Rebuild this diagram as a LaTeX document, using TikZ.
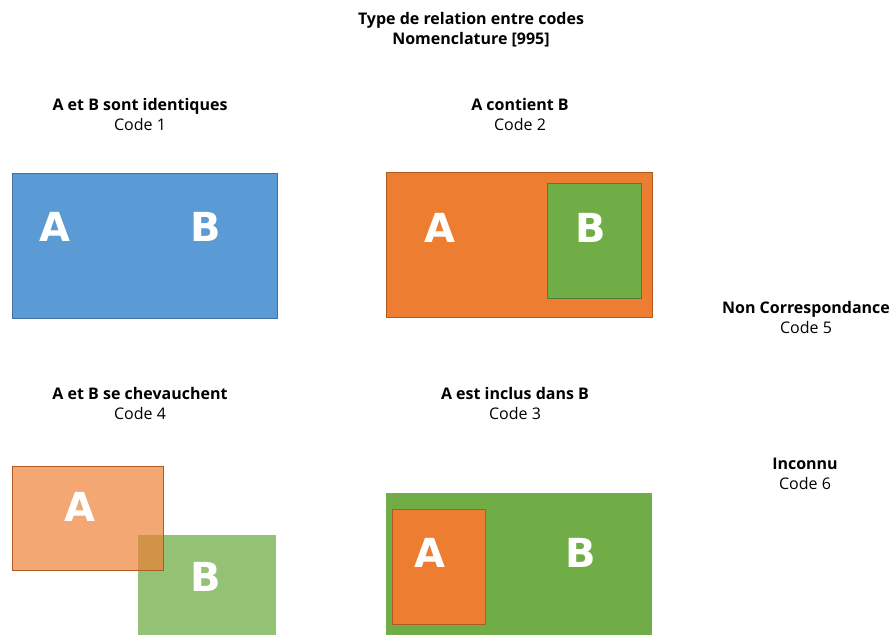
\documentclass[tikz,border=0pt]{standalone}
\usepackage{fontspec}
\setmainfont{Open Sans}
\newfontfamily\letterfont{DejaVu Sans}
\usepackage{tikz}
\usetikzlibrary{positioning}

\definecolor{bleu}{HTML}{5B9BD5}
\definecolor{bleuborder}{HTML}{41719C}
\definecolor{orange}{HTML}{ED7D31}
\definecolor{orangeborder}{HTML}{AE5A21}
\definecolor{vert}{HTML}{70AD47}
\definecolor{vertborder}{HTML}{507E32}

\begin{document}
\begin{tikzpicture}[
        x=1pt, y=-1pt,
        % Styles
        caption/.style={
            align=center,
            font=\fontsize{16}{20}\selectfont,
            inner sep=0pt
        },
        letter/.style={
            text=white,
            inner sep=0pt,
            font=\letterfont\bfseries\fontsize{40}{40}\selectfont
        },
        bluebox/.style={fill=bleu, draw=bleuborder, line width=0.6pt},
        orangebox/.style={fill=orange, draw=orangeborder, line width=0.6pt},
        greenbox/.style={fill=vert, draw=vertborder, line width=0.6pt}
    ]
    \useasboundingbox (0,0) rectangle (893,634);

    % Title
    \node[caption] (title) at (471,30) {\textbf{Type de relation entre codes}\\\textbf{Nomenclature [995]}};

    % Code 1: identical
    \node[caption] (cap1) at (140,114) {\textbf{A et B sont identiques}\\Code 1};
    \draw[bluebox] (12,173) rectangle (277,318);
    \node[letter] (a1) at (55,227) {A};
    \node[letter] (b1) at (206,227) {B};

    % Code 2: A contains B
    \node[caption] (cap2) at (520,114) {\textbf{A contient B}\\Code 2};
    \draw[orangebox] (386,172) rectangle (652,317);
    \draw[greenbox] (547,183) rectangle (641,298);
    \node[letter] (a2) at (440,228) {A};
    \node[letter] (b2) at (591,228) {B};

    % Code 5 and Code 6
    \node[caption] (cap5) at (806,317) {\textbf{Non Correspondance}\\Code 5};
    \node[caption] (cap6) at (805,474) {\textbf{Inconnu}\\Code 6};

    % Code 4: overlap
    \node[caption] (cap4) at (140,403) {\textbf{A et B se chevauchent}\\Code 4};
    \draw[greenbox, fill opacity=0.75, draw opacity=0] (138,535) rectangle (276,640);
    \draw[orangebox, fill opacity=0.68] (12,466) rectangle (163,570);
    \node[letter] (a4) at (80,507) {A};
    \node[letter] (b4) at (206,577) {B};

    % Code 3: A included in B
    \node[caption] (cap3) at (515,403) {\textbf{A est inclus dans B}\\Code 3};
    \draw[greenbox, draw opacity=0] (386,493) rectangle (652,640);
    \draw[orangebox] (392,509) rectangle (485,624);
    \node[letter] (a3) at (430,553) {A};
    \node[letter] (b3) at (581,553) {B};

\end{tikzpicture}
\end{document}
